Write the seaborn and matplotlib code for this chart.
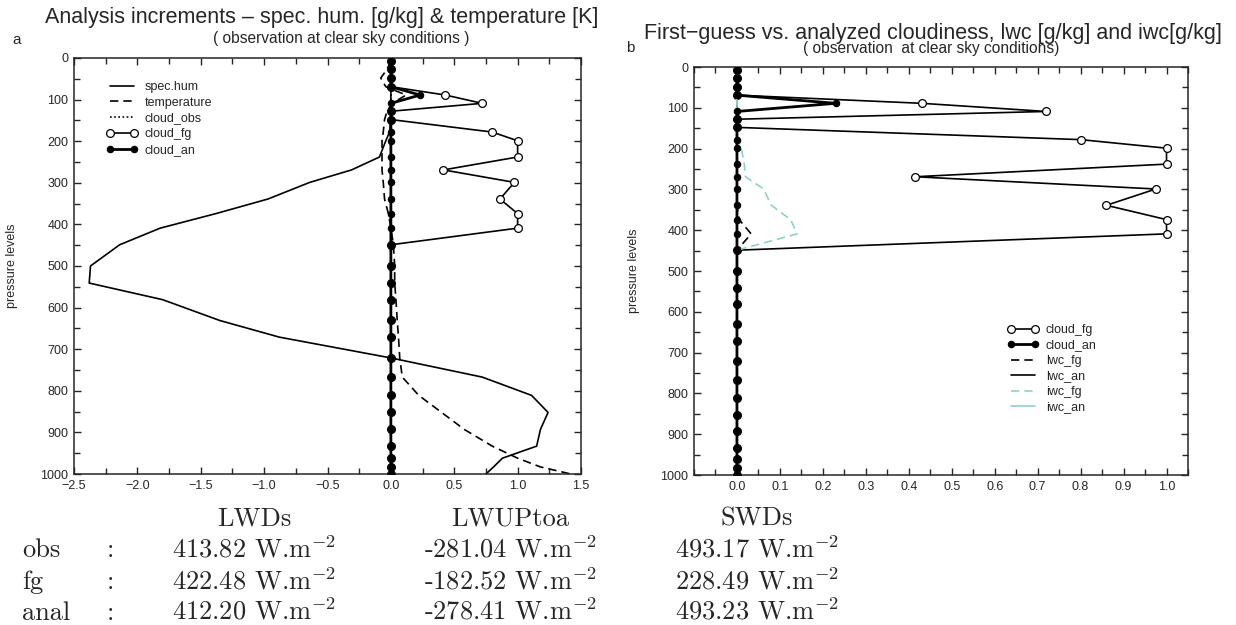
import numpy as np
import pandas as pd
import matplotlib
matplotlib.use("Agg")
import matplotlib.pyplot as plt
from matplotlib.ticker import MultipleLocator, FixedLocator, FixedFormatter
import seaborn as sns

# ---- data -----------------------------------------------------------------
levels = [7, 27, 48, 69, 89, 109, 128, 148, 178, 199, 238, 269, 299, 339, 374,
          409, 449, 500, 541, 581, 631, 671, 721, 767, 811, 852, 893, 933,
          962, 983, 1000]

spec_hum = [0.0, 0.0, 0.0, 0.0, 0.0, 0.0, 0.0, 0.0, -0.01, -0.04, -0.09, -0.31,
            -0.64, -0.97, -1.38, -1.82, -2.14, -2.37, -2.38, -1.80, -1.35,
            -0.88, 0.0, 0.72, 1.11, 1.24, 1.18, 1.15, 0.88, 0.81, 0.75]

temperature = [0.0, -0.03, -0.08, -0.04, 0.12, 0.01, -0.03, -0.05, -0.06, -0.07,
               -0.07, -0.07, -0.06, -0.05, -0.02, 0.0, 0.02, 0.03, 0.03, 0.04,
               0.05, 0.06, 0.07, 0.09, 0.22, 0.40, 0.58, 0.80, 1.00, 1.18, 1.42]

cloud_obs = [0.0] * 31

cloud_fg = [0.0, 0.0, 0.0, 0.0, 0.43, 0.72, 0.0, 0.0, 0.80, 1.0, 1.0, 0.415,
            0.975, 0.86, 1.0, 1.0, 0.0, 0.0, 0.0, 0.0, 0.0, 0.0, 0.0, 0.0,
            0.0, 0.0, 0.0, 0.0, 0.0, 0.0, 0.0]

cloud_an = [0.0, 0.0, 0.0, 0.0, 0.23, 0.0, 0.0, 0.0, 0.0, 0.0, 0.0, 0.0, 0.0,
            0.0, 0.0, 0.0, 0.0, 0.0, 0.0, 0.0, 0.0, 0.0, 0.0, 0.0, 0.0, 0.0,
            0.0, 0.0, 0.0, 0.0, 0.0]

lwc_fg = [0.0] * 14 + [0.005, 0.033] + [0.0] * 15
lwc_an = [0.0] * 31
iwc_fg = [0.0] * 8 + [0.003, 0.01, 0.017, 0.02, 0.062, 0.08, 0.125, 0.14] + [0.0] * 15
iwc_an = [0.0] * 31

flux_rows = ["obs", "fg", "anal"]
flux_cols = ["LWDs", "LWUPtoa", "SWDs"]
lwds = ["413.82", "422.48", "412.20"]
lwup = ["-281.04", "-182.52", "-278.41"]
swds = ["493.17", "228.49", "493.23"]

# ---- style ----------------------------------------------------------------
sns.set_style("ticks")
plt.rcParams["font.family"] = ["Liberation Sans", "DejaVu Sans"]
plt.rcParams["mathtext.fontset"] = "cm"
plt.rcParams["axes.linewidth"] = 1.1

W, H = 1236, 625
fig = plt.figure(figsize=(W / 100, H / 100), dpi=100)


def fx(x):
    return x / W


def fy(y):
    return 1 - y / H


def add_panel(l, r, t, b):
    return fig.add_axes([fx(l), fy(b), (r - l) / W, (b - t) / H])


def profile(ax, vals, label, **kw):
    df = pd.DataFrame({"x": vals, "p": levels})
    sns.lineplot(data=df, x="x", y="p", sort=False, estimator=None, ax=ax,
                 label=label, legend=False, **kw)


def style_axes(ax):
    ax.set_ylim(1000, 0)
    ax.yaxis.set_major_locator(MultipleLocator(100))
    ax.yaxis.set_minor_locator(MultipleLocator(50))
    ax.tick_params(which="both", direction="in", top=True, right=True,
                   labelsize=9, width=1.0, pad=4)
    ax.tick_params(which="major", length=5)
    ax.tick_params(which="minor", length=4)
    ax.set_xlabel("")
    ax.set_ylabel("pressure levels", fontsize=9)
    ax.yaxis.set_label_coords(-0.11, 0.5)
    for s in ax.spines.values():
        s.set_visible(True)


fg_kw = dict(color="black", linewidth=1.2, marker="o", markersize=5.6,
             markerfacecolor="white", markeredgecolor="black",
             markeredgewidth=0.9)
an_kw = dict(color="black", linewidth=2.0, marker="o", markersize=4.6,
             markerfacecolor="black", markeredgecolor="black",
             markeredgewidth=0.8, zorder=4)

# ---- panel a --------------------------------------------------------------
ax1 = add_panel(74, 581, 58, 474)
profile(ax1, spec_hum, "spec.hum", color="black", linewidth=1.2)
profile(ax1, temperature, "temperature", color="black", linewidth=1.2,
        linestyle=(0, (5, 3)))
profile(ax1, cloud_obs, "cloud_obs", color="black", linewidth=1.2,
        linestyle=(0, (1, 1.5)))
profile(ax1, cloud_fg, "cloud_fg", **fg_kw)
profile(ax1, cloud_an, "cloud_an", **an_kw)
ax1.set_xlim(-2.5, 1.5)
ax1.xaxis.set_major_locator(MultipleLocator(0.5))
ax1.xaxis.set_minor_locator(MultipleLocator(0.25))
style_axes(ax1)
ax1.legend(loc="upper left", bbox_to_anchor=(fx(106), fy(81)),
           bbox_transform=fig.transFigure, frameon=False, fontsize=9,
           handlelength=2.5, handletextpad=0.6, labelspacing=0.3,
           borderpad=0, borderaxespad=0, numpoints=2)

# ---- panel b --------------------------------------------------------------
ax2 = add_panel(694, 1188, 67, 475)
profile(ax2, cloud_fg, "cloud_fg", **fg_kw)
profile(ax2, cloud_an, "cloud_an", **an_kw)
profile(ax2, lwc_fg, "lwc_fg", color="black", linewidth=1.2,
        linestyle=(0, (5, 3)))
profile(ax2, lwc_an, "lwc_an", color="black", linewidth=1.2)
profile(ax2, iwc_fg, "iwc_fg", color="#8fd1c8", linewidth=1.2,
        linestyle=(0, (5, 3)))
profile(ax2, iwc_an, "iwc_an", color="#8fd1c8", linewidth=1.2)
ax2.set_xlim(-0.1, 1.05)
xt = [round(0.1 * i, 1) for i in range(11)]
ax2.xaxis.set_major_locator(FixedLocator(xt))
ax2.xaxis.set_major_formatter(FixedFormatter([f"{v:.1f}" for v in xt]))
ax2.xaxis.set_minor_locator(MultipleLocator(0.05))
style_axes(ax2)
ax2.legend(loc="upper left", bbox_to_anchor=(fx(1007), fy(324)),
           bbox_transform=fig.transFigure, frameon=False, fontsize=9,
           handlelength=2.5, handletextpad=0.6, labelspacing=0.28,
           borderpad=0, borderaxespad=0, numpoints=2)

# ---- titles ---------------------------------------------------------------
fig.text(fx(322), fy(18), "Analysis increments \u2013 spec. hum. [g/kg] & temperature [K]",
         ha="center", va="center", fontsize=15.5)
fig.text(fx(341), fy(38), "( observation at clear sky conditions )",
         ha="center", va="center", fontsize=11.2)
fig.text(fx(12), fy(40), "a", ha="left", va="center", fontsize=11)

fig.text(fx(933), fy(33), "First\u2212guess vs. analyzed cloudiness, lwc [g/kg] and iwc[g/kg]",
         ha="center", va="center", fontsize=15.5)
fig.text(fx(931), fy(49), "( observation  at clear sky conditions)",
         ha="center", va="center", fontsize=11.2)
fig.text(fx(626), fy(48), "b", ha="left", va="center", fontsize=11)

# ---- radiative flux table -------------------------------------------------
cm_kw = dict(fontfamily="cmr10", fontsize=19, va="baseline")
for name, xc in zip(flux_cols, [254, 510, 757]):
    fig.text(fx(xc), fy(526), name, ha="center", **cm_kw)

for i, row in enumerate(flux_rows):
    yb = [557, 589, 620][i]
    fig.text(fx(22), fy(yb), row, ha="left", **cm_kw)
    fig.text(fx(110), fy(yb), ":", ha="center", **cm_kw)
    for vals, xl in zip([lwds, lwup, swds], [172, 424, 675]):
        fig.text(fx(xl), fy(yb), vals[i] + r" W.m$^{-2}$", ha="left", **cm_kw)

fig.savefig("out.png", dpi=100)
